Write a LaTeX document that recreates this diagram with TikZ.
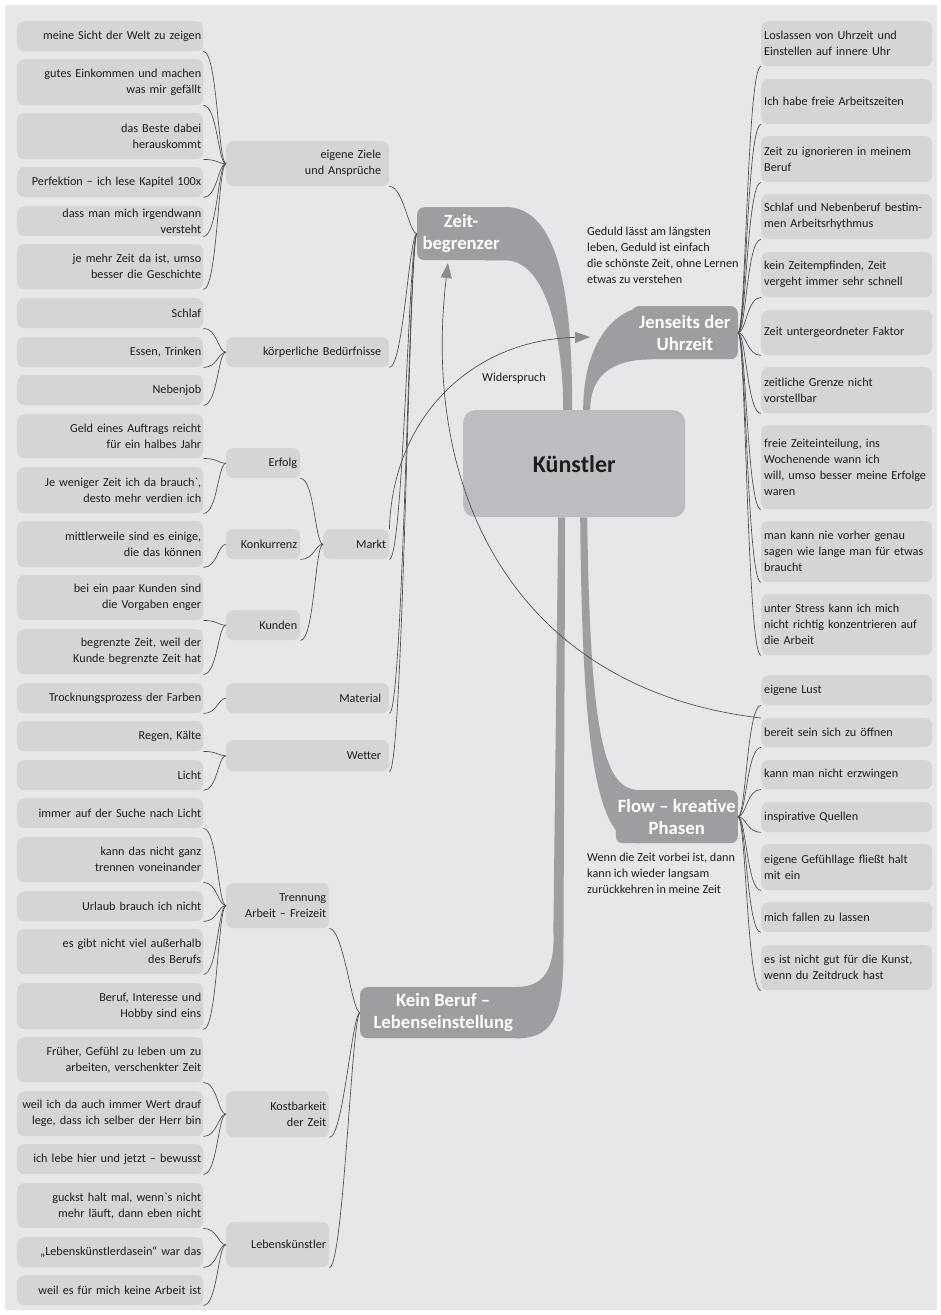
\documentclass[tikz,border=0pt]{standalone}
\usepackage{fontspec}
\setmainfont{Carlito}
\usepackage{xcolor}
\usetikzlibrary{arrows.meta,calc,backgrounds}

\definecolor{paper}{RGB}{230,231,233}
\definecolor{boxgray}{RGB}{212,213,215}
\definecolor{branchgray}{RGB}{157,158,162}
\definecolor{coregray}{RGB}{188,189,192}
\definecolor{inkgray}{RGB}{30,28,30}
\definecolor{linegray}{RGB}{75,75,77}
\definecolor{tipgray}{RGB}{140,141,145}

\newcommand{\leaffont}{\fontsize{12.2}{16}\selectfont}
\newcommand{\branchfont}{\fontsize{18.7}{22}\selectfont\bfseries}
\newcommand{\corefont}{\fontsize{24}{28}\selectfont\bfseries}

\tikzset{
  leafl/.style={anchor=north west, fill=boxgray, rounded corners=7pt, text width=182pt,
    inner xsep=2pt, inner ysep=0pt, align=right, text=inkgray, font=\leaffont},
  leafr/.style={leafl, text width=165pt, inner xsep=3pt, align=left},
  midbox/.style={leafl, text width=#1, inner xsep=3pt},
  branch/.style={fill=branchgray, rounded corners=7pt, text=white, font=\branchfont,
    align=center, inner sep=0pt, minimum height=53pt},
  note/.style={anchor=north west, align=left, inner sep=0pt, text=inkgray, font=\leaffont},
  twig/.style={draw=linegray, line width=0.65pt},
  hint/.style={draw=linegray, line width=0.65pt, -{Triangle[length=15pt,width=11pt,color=tipgray]}}
}

\begin{document}
\begin{tikzpicture}[x=1pt,y=-1pt]
        \useasboundingbox (0,0) rectangle (941,1315);

        % centre and main branches
        \node[anchor=north west, fill=coregray, rounded corners=12pt, minimum width=222pt,
              minimum height=107pt, text=inkgray, font=\corefont] (kuenstler) at (463,410) {Künstler};
        \node[branch, anchor=north west, minimum width=88pt] (zeit) at (417,207) {Zeit-\\begrenzer};
        \node[branch, anchor=north east, minimum width=106pt] (jens) at (738,306) {Jenseits der\\Uhrzeit};
        \node[branch, anchor=north east, minimum width=122pt] (flow) at (738,790) {Flow – kreative\\Phasen};
        \node[branch, anchor=north west, minimum width=166pt, minimum height=51pt] (kb) at (360,987) {Kein Beruf –\\Lebenseinstellung};

        % left column
        \node[leafl, minimum height=30pt] (l1) at (17,21) {meine Sicht der Welt zu zeigen};
        \node[leafl, minimum height=46pt] (l2) at (17,59) {gutes Einkommen und machen\\was mir gefällt};
        \node[leafl, minimum height=46pt] (l3) at (17,113) {das Beste dabei\\herauskommt};
        \node[leafl, minimum height=30pt] (l4) at (17,167) {Perfektion – ich lese Kapitel 100x};
        \node[leafl, minimum height=30pt] (l5) at (17,206) {dass man mich irgendwann\\versteht};
        \node[leafl, minimum height=45pt] (l6) at (17,244) {je mehr Zeit da ist, umso\\besser die Geschichte};
        \node[leafl, minimum height=30pt] (l7) at (17,298) {Schlaf};
        \node[leafl, minimum height=30pt] (l8) at (17,337) {Essen, Trinken};
        \node[leafl, minimum height=30pt] (l9) at (17,375) {Nebenjob};
        \node[leafl, minimum height=44pt] (l10) at (17,414) {Geld eines Auftrags reicht\\für ein halbes Jahr};
        \node[leafl, minimum height=46pt] (l11) at (17,467) {Je weniger Zeit ich da brauch\textasciigrave,\\desto mehr verdien ich};
        \node[leafl, minimum height=46pt] (l12) at (17,521) {mittlerweile sind es einige,\\die das können};
        \node[leafl, minimum height=45pt] (l13) at (17,575) {bei ein paar Kunden sind\\die Vorgaben enger};
        \node[leafl, minimum height=45pt] (l14) at (17,629) {begrenzte Zeit, weil der\\Kunde begrenzte Zeit hat};
        \node[leafl, minimum height=30pt] (l15) at (17,683) {Trocknungsprozess der Farben};
        \node[leafl, minimum height=30pt] (l16) at (17,721) {Regen, Kälte};
        \node[leafl, minimum height=30pt] (l17) at (17,760) {Licht};
        \node[leafl, minimum height=30pt] (l18) at (17,798) {immer auf der Suche nach Licht};
        \node[leafl, minimum height=45pt] (l19) at (17,837) {kann das nicht ganz\\trennen voneinander};
        \node[leafl, minimum height=30pt] (l20) at (17,891) {Urlaub brauch ich nicht};
        \node[leafl, minimum height=45pt] (l21) at (17,929) {es gibt nicht viel außerhalb\\des Berufs};
        \node[leafl, minimum height=46pt] (l22) at (17,983) {Beruf, Interesse und\\Hobby sind eins};
        \node[leafl, minimum height=45pt] (l23) at (17,1037) {Früher, Gefühl zu leben um zu\\arbeiten, verschenkter Zeit};
        \node[leafl, minimum height=45pt] (l24) at (17,1091) {weil ich da auch immer Wert drauf\\lege, dass ich selber der Herr bin};
        \node[leafl, minimum height=30pt] (l25) at (17,1144) {ich lebe hier und jetzt – bewusst};
        \node[leafl, minimum height=45pt] (l26) at (17,1183) {guckst halt mal, wenn\textasciigrave s nicht\\mehr läuft, dann eben nicht};
        \node[leafl, minimum height=30pt] (l27) at (17,1237) {„Lebenskünstlerdasein“ war das};
        \node[leafl, minimum height=30pt] (l28) at (17,1275) {weil es für mich keine Arbeit ist};

        % second column
        \node[midbox=147pt, inner xsep=8pt, minimum height=45pt] (ziele) at (226,141) {eigene Ziele\\und Ansprüche};
        \node[midbox=147pt, inner xsep=8pt, minimum height=30pt] (koerper) at (226,337) {körperliche Bedürfnisse};
        \node[midbox=68pt, minimum height=30pt] (erfolg) at (226,448) {Erfolg};
        \node[midbox=68pt, minimum height=30pt] (konkurrenz) at (226,529) {Konkurrenz};
        \node[midbox=68pt, minimum height=30pt] (kunden) at (226,610) {Kunden};
        \node[midbox=60pt, minimum height=30pt] (markt) at (323,529) {Markt};
        \node[midbox=147pt, inner xsep=8pt, minimum height=30pt] (material) at (226,683) {Material};
        \node[midbox=147pt, inner xsep=8pt, minimum height=31pt] (wetter) at (226,740) {Wetter};
        \node[midbox=97pt, minimum height=45pt] (trennung) at (226,883) {Trennung\\Arbeit – Freizeit};
        \node[midbox=97pt, minimum height=46pt] (kostbar) at (226,1091) {Kostbarkeit\\der Zeit};
        \node[midbox=97pt, minimum height=45pt] (lebenskuenstler) at (226,1222) {Lebenskünstler};

        % right column
        \node[leafr, minimum height=45pt] (r1) at (761,21) {Loslassen von Uhrzeit und\\Einstellen auf innere Uhr};
        \node[leafr, minimum height=45pt] (r2) at (761,79) {Ich habe freie Arbeitszeiten};
        \node[leafr, minimum height=46pt] (r3) at (761,136) {Zeit zu ignorieren in meinem\\Beruf};
        \node[leafr, minimum height=45pt] (r4) at (761,194) {Schlaf und Nebenberuf bestim-\\men Arbeitsrhythmus};
        \node[leafr, minimum height=45pt] (r5) at (761,252) {kein Zeitempfinden, Zeit\\vergeht immer sehr schnell};
        \node[leafr, minimum height=45pt] (r6) at (761,310) {Zeit untergeordneter Faktor};
        \node[leafr, minimum height=46pt] (r7) at (761,367) {zeitliche Grenze nicht\\vorstellbar};
        \node[leafr, minimum height=84pt] (r8) at (761,425) {freie Zeiteinteilung, ins\\Wochenende wann ich\\will, umso besser meine Erfolge\\waren};
        \node[leafr, minimum height=61pt] (r9) at (761,521) {man kann nie vorher genau\\sagen wie lange man für etwas\\braucht};
        \node[leafr, minimum height=61pt] (r10) at (761,594) {unter Stress kann ich mich\\nicht richtig konzentrieren auf\\die Arbeit};
        \node[leafr, minimum height=30pt] (f1) at (761,675) {eigene Lust};
        \node[leafr, minimum height=29pt] (f2) at (761,718) {bereit sein sich zu öffnen};
        \node[leafr, minimum height=29pt] (f3) at (761,760) {kann man nicht erzwingen};
        \node[leafr, minimum height=30pt] (f4) at (761,802) {inspirative Quellen};
        \node[leafr, minimum height=46pt] (f5) at (761,844) {eigene Gefühllage fließt halt\\mit ein};
        \node[leafr, minimum height=30pt] (f6) at (761,902) {mich fallen zu lassen};
        \node[leafr, minimum height=45pt] (f7) at (761,945) {es ist nicht gut für die Kunst,\\wenn du Zeitdruck hast};

        % free texts
        \node[note] (geduld) at (587,227) {Geduld lässt am längsten\\leben, Geduld ist einfach\\die schönste Zeit, ohne Lernen\\etwas zu verstehen};
        \node[note] (wenn) at (587,853) {Wenn die Zeit vorbei ist, dann\\kann ich wieder langsam\\zurückkehren in meine Zeit};
        \node[note, anchor=center] (wider) at (514,378) {Widerspruch};

        % thin connectors
        \foreach \n in {l1,l2,l3,l4,l5,l6}
          \draw[twig] (\n.south east) .. controls +(14,0) and +(-8,0) .. (ziele.west);
        \foreach \n in {l7,l8,l9}
          \draw[twig] (\n.south east) .. controls +(14,0) and +(-8,0) .. (koerper.west);
        \foreach \n in {l10,l11}
          \draw[twig] (\n.south east) .. controls +(14,0) and +(-8,0) .. (erfolg.west);
        \draw[twig] (l12.south east) .. controls +(14,0) and +(-8,0) .. (konkurrenz.west);
        \foreach \n in {l13,l14}
          \draw[twig] (\n.south east) .. controls +(14,0) and +(-8,0) .. (kunden.west);
        \foreach \n in {erfolg,konkurrenz,kunden}
          \draw[twig] (\n.south east) .. controls +(14,0) and +(-8,0) .. (markt.west);
        \draw[twig] (l15.south east) .. controls +(14,0) and +(-8,0) .. (material.west);
        \foreach \n in {l16,l17}
          \draw[twig] (\n.south east) .. controls +(14,0) and +(-8,0) .. (wetter.west);
        \foreach \n in {ziele,koerper,markt,material,wetter}
          \draw[twig] (\n.south east) .. controls +(14,0) and +(-8,0) .. (zeit.west);

        \foreach \n in {l18,l19,l20,l21,l22}
          \draw[twig] (\n.south east) .. controls +(14,0) and +(-8,0) .. (trennung.west);
        \foreach \n in {l23,l24,l25}
          \draw[twig] (\n.south east) .. controls +(14,0) and +(-8,0) .. (kostbar.west);
        \foreach \n in {l26,l27,l28}
          \draw[twig] (\n.south east) .. controls +(14,0) and +(-8,0) .. (lebenskuenstler.west);
        \foreach \n in {trennung,kostbar,lebenskuenstler}
          \draw[twig] (\n.south east) .. controls +(14,0) and +(-8,0) .. (kb.west);

        \foreach \n in {r1,r2,r3,r4,r5,r6,r7,r8,r9,r10}
          \draw[twig] (jens.east) .. controls +(8,0) and +(-14,0) .. (\n.south west);
        \foreach \n in {f1,f2,f3,f4,f5,f6,f7}
          \draw[twig] (flow.east) .. controls +(8,0) and +(-14,0) .. (\n.south west);

        % the two arrows
        \coordinate (wtip) at (590,337);
        \coordinate (ztip) at (448,263);
        \draw[hint] (markt.north east) .. controls +(3,-110) and +(-120,3) .. (wtip);
        \draw[hint] (f2.north west) .. controls +(-240,-28) and +(-28,237) .. (ztip);

        \begin{scope}[on background layer]
          \fill[paper] (5,5) rectangle (937,1310);
          % ribbons into the centre
          \fill[branchgray] ($(zeit.north east)+(-20,0)$) -- (zeit.north east)
            .. controls +(55,0) and +(0,-110) .. ($(kuenstler.north)+(-2,0)$)
            -- ($(kuenstler.north)+(-11,0)$)
            .. controls +(0,-75) and +(40,0) .. (zeit.south east)
            -- ($(zeit.south east)+(-20,0)$) -- cycle;
          \fill[branchgray] ($(kuenstler.north)+(9,0)$)
            .. controls +(0,-70) and +(-35,0) .. ($(jens.north west)+(20,0)$)
            -- ($(jens.south west)+(20,0)$)
            .. controls +(-45,0) and +(0,-30) .. ($(kuenstler.north)+(16,0)$) -- cycle;
          \fill[branchgray] ($(kuenstler.south)+(6,0)$)
            .. controls +(2,223) and +(-45,0) .. ($(flow.south west)+(24,0)$)
            -- ($(flow.north west)+(24,0)$)
            .. controls +(-35,0) and +(3,223) .. ($(kuenstler.south)+(13,0)$) -- cycle;
          \fill[branchgray] ($(kuenstler.south)+(-9,0)$) -- ($(kb.north east)+(37,-27)$)
            .. controls +(-1,60) and +(35,0) .. ($(kb.south east)+(-11,0)$)
            -- ($(kb.north east)+(-11,0)$)
            .. controls +(25,0) and +(2,45) .. ($(kb.north east)+(27,-57)$)
            -- ($(kuenstler.south)+(-16,0)$) -- cycle;
        \end{scope}
\end{tikzpicture}
\end{document}
